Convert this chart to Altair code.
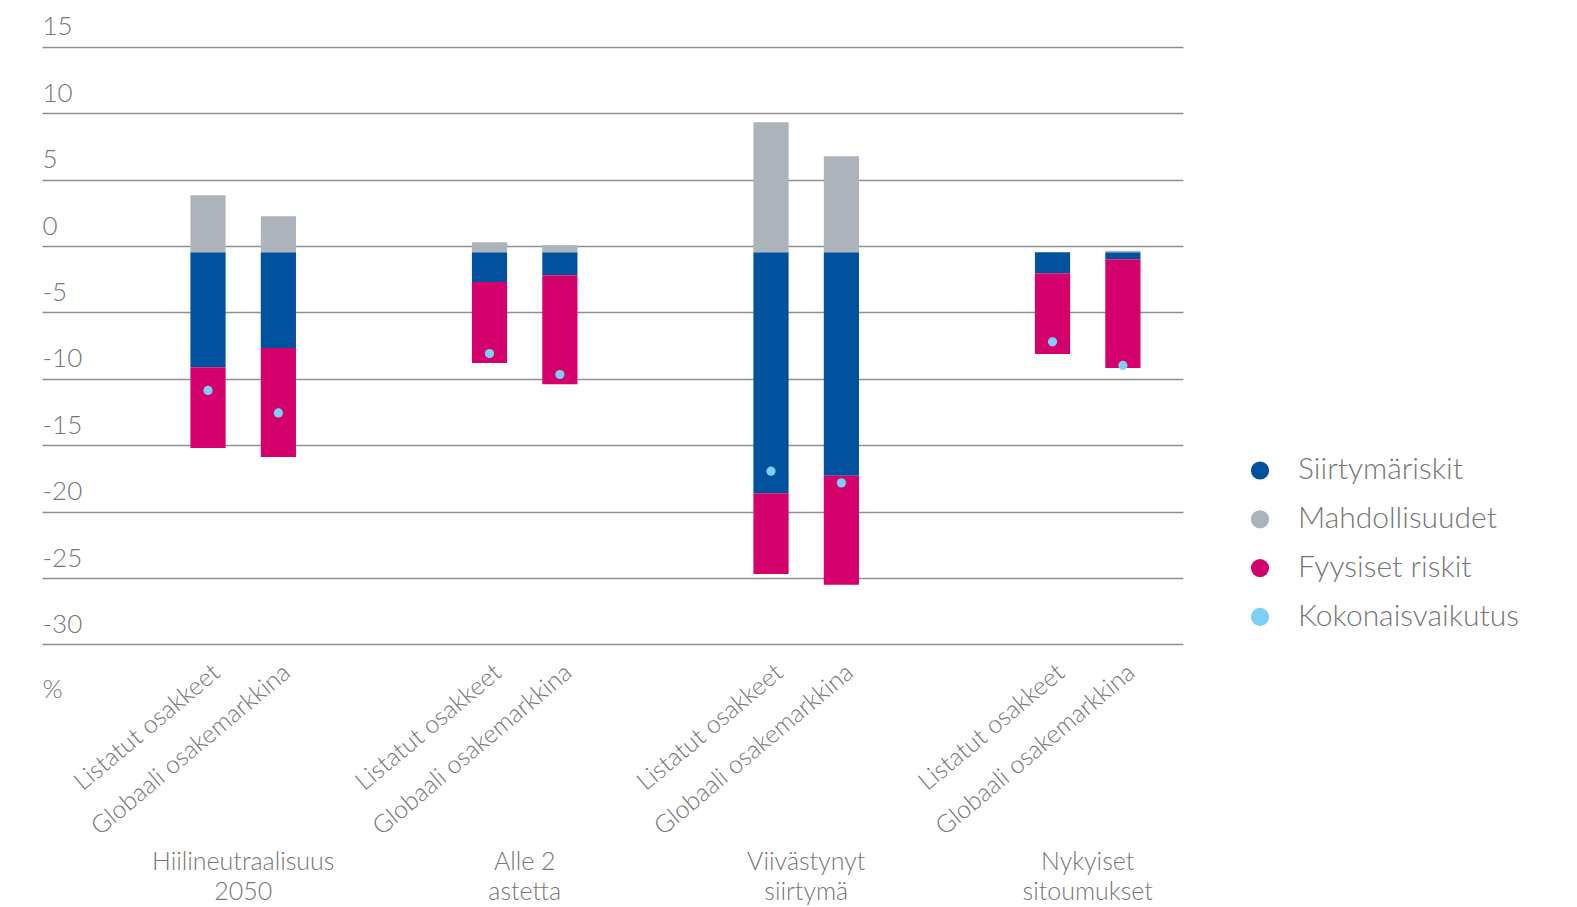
import altair as alt
import pandas as pd

# ---- data ----
skenaariot = ["Hiilineutraalisuus\n2050", "Alle 2\nastetta", "Viivästynyt\nsiirtymä", "Nykyiset\nsitoumukset"]
sarjat = ["Listatut osakkeet", "Globaali osakemarkkina"]
komponentit = ["Siirtymäriskit", "Mahdollisuudet", "Fyysiset riskit"]
kokonais_nimi = "Kokonaisvaikutus"

# order of values: for each scenario -> Listatut, Globaali
siirtymariskit = [-8.66, -7.21, -2.24, -1.73, -18.15, -16.84, -1.58, -0.53]
mahdollisuudet = [4.29, 2.71, 0.75, 0.53, 9.79, 7.23, 0.0, 0.1]
fyysiset_riskit = [-6.08, -8.21, -6.10, -8.21, -6.08, -8.21, -6.08, -8.19]
kokonaisvaikutus = [-10.41, -12.10, -7.63, -9.21, -16.49, -17.37, -6.75, -8.53]

y_ticks = [-30, -25, -20, -15, -10, -5, 0, 5, 10, 15]
varit = ["#00519E", "#ADB3BB", "#D4006C", "#7ECFF4"]

# ---- tables ----
pairs = [(s, r) for s in skenaariot for r in sarjat]
bar_rows = []
for i, (s, r) in enumerate(pairs):
    for k, (name, vals) in enumerate(zip(komponentit, [siirtymariskit, mahdollisuudet, fyysiset_riskit])):
        bar_rows.append({"skenaario": s, "sarja": r, "komponentti": name, "arvo": vals[i], "jarjestys": k})
df_bars = pd.DataFrame(bar_rows)
df_tot = pd.DataFrame([{"skenaario": s, "sarja": r, "komponentti": kokonais_nimi, "arvo": kokonaisvaikutus[i]}
                       for i, (s, r) in enumerate(pairs)])
df_lab = pd.DataFrame([{"skenaario": s, "sarja": r} for s, r in pairs])

FONT = "Lato"
TXT = "#767676"
W, H = 1141, 597.6

x_enc = alt.X(
    "skenaario:N", sort=skenaariot,
    scale=alt.Scale(paddingInner=0.5, paddingOuter=0.2766, align=0.84),
    axis=alt.Axis(
        title=None, labelExpr="split(datum.label, '\\n')", domain=False, ticks=False, tickSize=0,
        labelPadding=218.7, labelBaseline="alphabetic", labelAngle=0, labelFontSize=25,
        labelLineHeight=30.7, labelFont=FONT, labelFontWeight=300, labelColor=TXT,
        labelOverlap=False, labelLimit=0, grid=False,
    ),
)
xo_enc = alt.XOffset("sarja:N", sort=sarjat, scale=alt.Scale(paddingInner=0.5, paddingOuter=0.25))
y_scale = alt.Scale(domain=[-30, 15], nice=False)
y_axis = alt.Axis(
    values=y_ticks, labelExpr="'' + datum.value", grid=True, gridColor="#8f8f8f", gridWidth=1.5,
    domain=False, ticks=False, tickSize=0, tickOffset=-6.3, labelAlign="left", labelBaseline="alphabetic",
    labelPadding=0, labelOffset=-11.7, labelFontSize=26, labelFont=FONT, labelFontWeight=300,
    labelColor=TXT, title="%", titleAngle=0, titleX=0, titleY=644.7, titleAlign="left",
    titleBaseline="alphabetic", titleFontSize=26, titleFont=FONT, titleFontWeight=300, titleColor=TXT,
)
color_enc = alt.Color(
    "komponentti:N",
    scale=alt.Scale(domain=komponentit + [kokonais_nimi], range=varit),
    legend=alt.Legend(
        title=None, orient="none", legendX=1203, legendY=402.5, symbolType="circle", symbolSize=330,
        labelFontSize=30, labelFont=FONT, labelFontWeight=300, labelColor=TXT, labelOffset=23,
        labelLimit=0, rowPadding=18.8, padding=0, symbolStrokeWidth=0, symbolOpacity=1,
    ),
)

bars = alt.Chart(df_bars).mark_bar().encode(
    x=x_enc, xOffset=xo_enc,
    y=alt.Y("arvo:Q", scale=y_scale, axis=y_axis),
    color=color_enc,
    order=alt.Order("jarjestys:Q"),
)
points = alt.Chart(df_tot).mark_circle(size=85, opacity=1).encode(
    x=x_enc, xOffset=xo_enc, y=alt.Y("arvo:Q"), color=color_enc,
)
labels = alt.Chart(df_lab).mark_text(
    angle=320, align="right", baseline="middle", dx=11, fontSize=25, font=FONT,
    fontWeight=300, color=TXT,
).encode(x=x_enc, xOffset=xo_enc, y=alt.value(H + 25.5), text="sarja:N")

chart = alt.layer(bars, points, labels).properties(
    width=W, height=H,
    padding={"left": 34, "top": 45, "right": 386, "bottom": 254},
    autosize=alt.AutoSizeParams(type="none"),
).configure_view(strokeWidth=0)

chart.save("out.html", embed_options={"renderer": "svg", "actions": False})
